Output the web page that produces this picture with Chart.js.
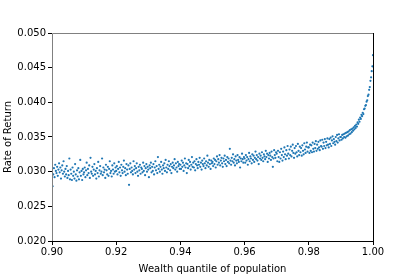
<!DOCTYPE html>
<html>
<head>
<meta charset="utf-8">
<script src="https://cdn.jsdelivr.net/npm/chart.js@4"></script>
<style>
  html, body { margin: 0; padding: 0; background: #fff; }
  #wrap { width: 415px; height: 277px; }
</style>
</head>
<body>
<div id="wrap"><canvas id="rate-chart" width="415" height="277"></canvas></div>
<script>
// Wealth quantiles run from 0.90 to 1.00 in steps of 0.0002 (one value per step)
const quantileStart = 0.90;
const quantileStep = 0.0002;

// Rate of return, one block per 0.01 of quantile
const rate090 = [0.03240, 0.02790, 0.02960, 0.03050, 0.02920, 0.03100, 0.03010, 0.02980, 0.03070, 0.02940,
  0.03030, 0.03120, 0.02990, 0.03060, 0.02900, 0.03020, 0.03090, 0.02970, 0.03150, 0.03000,
  0.02930, 0.03040, 0.02960, 0.03080, 0.02910, 0.03010, 0.02950, 0.03190, 0.02890, 0.03030,
  0.02970, 0.02880, 0.03060, 0.02940, 0.03000, 0.02900, 0.03110, 0.02960, 0.02870, 0.03020,
  0.02930, 0.03050, 0.02890, 0.02990, 0.03170, 0.02940, 0.03010, 0.02880, 0.03040, 0.02960];
const rate091 = [0.02990, 0.03060, 0.02920, 0.03020, 0.03130, 0.02950, 0.03040, 0.02980, 0.03090, 0.02910,
  0.03200, 0.03000, 0.02970, 0.03070, 0.02940, 0.03030, 0.03110, 0.02960, 0.03010, 0.02900,
  0.03050, 0.02980, 0.03140, 0.02930, 0.03020, 0.03080, 0.02970, 0.03000, 0.03190, 0.02950,
  0.03060, 0.02990, 0.03030, 0.02910, 0.03100, 0.03020, 0.02960, 0.03070, 0.02940, 0.03040,
  0.03150, 0.02980, 0.03010, 0.02930, 0.03090, 0.03030, 0.02970, 0.03120, 0.03000, 0.03060];
const rate092 = [0.03010, 0.03080, 0.02960, 0.03040, 0.03140, 0.02990, 0.03060, 0.02940, 0.03100, 0.03020,
  0.02980, 0.03070, 0.03160, 0.03000, 0.03050, 0.02950, 0.03110, 0.03030, 0.02970, 0.03090,
  0.02810, 0.03040, 0.03120, 0.02990, 0.03060, 0.03010, 0.02960, 0.03150, 0.03030, 0.03080,
  0.02980, 0.03050, 0.03120, 0.03000, 0.02940, 0.03070, 0.03020, 0.03100, 0.02970, 0.03060,
  0.03040, 0.02990, 0.03130, 0.03010, 0.03080, 0.02950, 0.03050, 0.03110, 0.03000, 0.03070];
const rate093 = [0.03030, 0.02920, 0.03090, 0.03050, 0.03130, 0.02990, 0.03070, 0.03010, 0.03110, 0.02960,
  0.03060, 0.03150, 0.03020, 0.03080, 0.02980, 0.03210, 0.03040, 0.03100, 0.03000, 0.03070,
  0.03140, 0.03030, 0.02970, 0.03090, 0.03050, 0.03120, 0.03010, 0.03170, 0.03060, 0.02990,
  0.03100, 0.03040, 0.03150, 0.03080, 0.03020, 0.03110, 0.02980, 0.03070, 0.03130, 0.03050,
  0.03090, 0.03180, 0.03030, 0.03120, 0.03060, 0.03000, 0.03140, 0.03080, 0.03110, 0.03040];
const rate094 = [0.03100, 0.03040, 0.03160, 0.03070, 0.03130, 0.03010, 0.03090, 0.03190, 0.03060, 0.03120,
  0.02980, 0.03110, 0.03050, 0.03170, 0.03080, 0.03140, 0.03030, 0.03100, 0.03210, 0.03070,
  0.03130, 0.03060, 0.03150, 0.03020, 0.03110, 0.03180, 0.03090, 0.03050, 0.03140, 0.03100,
  0.03200, 0.03070, 0.03130, 0.03030, 0.03160, 0.03110, 0.03080, 0.03190, 0.03120, 0.03050,
  0.03150, 0.03090, 0.03230, 0.03130, 0.03070, 0.03170, 0.03110, 0.03040, 0.03160, 0.03120];
const rate095 = [0.03140, 0.03080, 0.03190, 0.03110, 0.03170, 0.03060, 0.03150, 0.03220, 0.03100, 0.03180,
  0.03130, 0.03240, 0.03090, 0.03160, 0.03200, 0.03120, 0.03070, 0.03190, 0.03150, 0.03230,
  0.03110, 0.03170, 0.03080, 0.03210, 0.03140, 0.03190, 0.03120, 0.03330, 0.03160, 0.03100,
  0.03200, 0.03150, 0.03250, 0.03130, 0.03180, 0.03090, 0.03220, 0.03160, 0.03120, 0.03240,
  0.03170, 0.03140, 0.03210, 0.03060, 0.03190, 0.03150, 0.03260, 0.03180, 0.03130, 0.03210];
const rate096 = [0.03190, 0.03130, 0.03240, 0.03160, 0.03210, 0.03100, 0.03180, 0.03270, 0.03150, 0.03220,
  0.03190, 0.03120, 0.03250, 0.03170, 0.03230, 0.03140, 0.03200, 0.03290, 0.03180, 0.03240,
  0.03160, 0.03210, 0.03110, 0.03260, 0.03190, 0.03230, 0.03170, 0.03280, 0.03200, 0.03150,
  0.03250, 0.03220, 0.03180, 0.03300, 0.03210, 0.03260, 0.03140, 0.03240, 0.03190, 0.03270,
  0.03230, 0.03170, 0.03290, 0.03210, 0.03070, 0.03190, 0.03310, 0.03240, 0.03200, 0.03280];
const rate097 = [0.03260, 0.03150, 0.03300, 0.03210, 0.03140, 0.03280, 0.03190, 0.03330, 0.03240, 0.03160,
  0.03290, 0.03210, 0.03350, 0.03250, 0.03180, 0.03310, 0.03230, 0.03370, 0.03260, 0.03190,
  0.03320, 0.03240, 0.03360, 0.03220, 0.03300, 0.03390, 0.03270, 0.03200, 0.03340, 0.03260,
  0.03370, 0.03280, 0.03220, 0.03400, 0.03300, 0.03240, 0.03360, 0.03280, 0.03340, 0.03230,
  0.03380, 0.03300, 0.03250, 0.03410, 0.03320, 0.03270, 0.03360, 0.03420, 0.03290, 0.03350];
const rate098 = [0.03350, 0.03270, 0.03390, 0.03300, 0.03380, 0.03280, 0.03420, 0.03330, 0.03290, 0.03400,
  0.03340, 0.03440, 0.03300, 0.03390, 0.03330, 0.03430, 0.03350, 0.03310, 0.03450, 0.03370,
  0.03360, 0.03460, 0.03330, 0.03420, 0.03370, 0.03470, 0.03340, 0.03430, 0.03380, 0.03480,
  0.03390, 0.03350, 0.03470, 0.03400, 0.03490, 0.03370, 0.03450, 0.03510, 0.03410, 0.03470,
  0.03430, 0.03390, 0.03500, 0.03440, 0.03530, 0.03420, 0.03480, 0.03540, 0.03450, 0.03500];
const rate099 = [0.03500, 0.03460, 0.03530, 0.03480, 0.03540, 0.03500, 0.03550, 0.03490, 0.03560, 0.03510,
  0.03570, 0.03520, 0.03580, 0.03540, 0.03600, 0.03550, 0.03610, 0.03570, 0.03620, 0.03590,
  0.03640, 0.03610, 0.03660, 0.03630, 0.03680, 0.03650, 0.03710, 0.03690, 0.03750, 0.03720,
  0.03780, 0.03760, 0.03820, 0.03800, 0.03850, 0.03830, 0.03900, 0.03910, 0.03950, 0.03960,
  0.04010, 0.04030, 0.04090, 0.04110, 0.04180, 0.04220, 0.04310, 0.04360, 0.04450, 0.04520, 0.04680];

const xTicks = [0.90, 0.92, 0.94, 0.96, 0.98, 1.00];
const yTicks = [0.020, 0.025, 0.030, 0.035, 0.040, 0.045, 0.050];

const rates = [].concat(rate090, rate091, rate092, rate093, rate094,
  rate095, rate096, rate097, rate098, rate099);
const points = rates.map((r, i) => ({ x: quantileStart + i * quantileStep, y: r }));

// matplotlib style frame: grey top/left spines, black right spine
const framePlugin = {
  id: 'frame',
  afterDraw(chart) {
    const { ctx, chartArea: a } = chart;
    ctx.save();
    ctx.lineWidth = 1;
    ctx.strokeStyle = '#808080';
    ctx.beginPath();
    ctx.moveTo(a.left + 0.5, a.bottom);
    ctx.lineTo(a.left + 0.5, a.top + 0.5);
    ctx.lineTo(a.right, a.top + 0.5);
    ctx.stroke();
    ctx.strokeStyle = '#000';
    ctx.beginPath();
    ctx.moveTo(a.right + 0.5, a.top);
    ctx.lineTo(a.right + 0.5, a.bottom);
    ctx.stroke();
    ctx.restore();
  }
};

const ctx = document.getElementById('rate-chart').getContext('2d');
const rateChart = new Chart(ctx, {
  type: 'scatter',
  data: {
    datasets: [{
      data: points,
      backgroundColor: '#1f77b4',
      borderWidth: 0,
      pointRadius: 1.1,
      pointHoverRadius: 1.1
    }]
  },
  options: {
    responsive: false,
    animation: false,
    events: [],
    layout: { padding: { left: 2, right: 42, top: 33, bottom: 2 } },
    plugins: { legend: { display: false }, tooltip: { enabled: false } },
    scales: {
      x: {
        type: 'linear',
        min: 0.90,
        max: 1.00,
        afterBuildTicks: (s) => { s.ticks = xTicks.map(v => ({ value: v })); },
        afterFit: (s) => { s.height = 34; },
        ticks: {
          callback: (v) => v.toFixed(2),
          color: '#000',
          font: { family: 'DejaVu Sans', size: 10 },
          padding: 1,
          maxRotation: 0
        },
        grid: { drawOnChartArea: false, tickLength: 4, color: '#000' },
        border: { color: '#000', width: 1 },
        title: {
          display: true,
          text: 'Wealth quantile of population',
          color: '#000',
          font: { family: 'DejaVu Sans', size: 10 },
          padding: { top: 1, bottom: 0 }
        }
      },
      y: {
        min: 0.020,
        max: 0.050,
        afterBuildTicks: (s) => { s.ticks = yTicks.map(v => ({ value: v })); },
        afterFit: (s) => { s.width = 50; },
        ticks: {
          callback: (v) => v.toFixed(3),
          color: '#000',
          font: { family: 'DejaVu Sans', size: 10 },
          padding: 2
        },
        grid: { drawOnChartArea: false, tickLength: 4, color: '#000' },
        border: { display: false },
        title: {
          display: true,
          text: 'Rate of Return',
          color: '#000',
          font: { family: 'DejaVu Sans', size: 10 },
          padding: { top: 0, bottom: 2 }
        }
      }
    }
  },
  plugins: [framePlugin]
});
</script>
</body>
</html>
